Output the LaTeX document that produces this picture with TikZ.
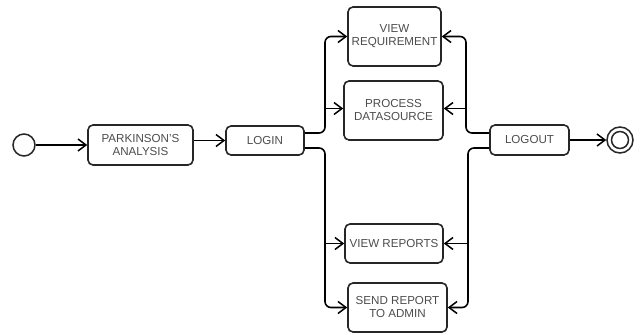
\documentclass[tikz,border=0pt]{standalone}
\usepackage{fontspec}
\setmainfont{Liberation Sans}
\usetikzlibrary{positioning, arrows.meta}

\tikzset{
    act/.style={draw=black!85, line width=1.6pt, rounded corners=5pt, align=center, inner sep=1pt, text=black!70, font=\fontsize{11.6}{13}\selectfont},
    arr/.style={line width=1.6pt, -{Straight Barb[length=8pt, width=12pt, line width=1.5pt]}, rounded corners=6pt},
    dot/.style={circle, draw=black!85, line width=1.5pt, inner sep=0pt}
}

\begin{document}
\begin{tikzpicture}[x=1pt, y=-1pt]
    \useasboundingbox (0, 0) rectangle (641, 335);

    \node[dot, minimum size=22pt] (start) at (24, 145) {};
    \node[act, minimum width=105pt, minimum height=40pt] (pa) at (140.5, 145) {PARKINSON'S\\ANALYSIS};
    \node[act, minimum width=78pt, minimum height=29pt] (login) at (265, 140.5) {LOGIN};
    \node[act, minimum width=93pt, minimum height=59pt] (vr) at (394.5, 36.5) {VIEW\\REQUIREMENT};
    \node[act, minimum width=99pt, minimum height=59pt] (pd) at (393.5, 110.5) {PROCESS\\DATASOURCE};
    \node[act, minimum width=98pt, minimum height=39pt] (vrep) at (394, 243.5) {VIEW REPORTS};
    \node[act, minimum width=99pt, minimum height=49pt] (sr) at (397.5, 307.5) {SEND REPORT\\TO ADMIN};
    \node[act, minimum width=79pt, minimum height=30pt] (logout) at (529.5, 140) {LOGOUT};
    \node[dot, minimum size=26pt] (end) at (620, 140) {};
    \node[dot, minimum size=17pt] (endin) at (620, 140) {};

    \coordinate (lbus) at (325, 0);
    \coordinate (rbus) at (466, 0);
    \coordinate (rbus2) at (468, 0);

    \draw[arr] (start) -- (pa);
    \draw[arr] (pa.east |- login) -- (login);

    \draw[arr] ([yshift=7.5pt]login.east) -| (lbus |- vr) -- (vr.west);
    \draw[arr] ([yshift=2pt]pd.west -| lbus) -- ([yshift=2pt]pd.west);
    \draw[arr] ([yshift=-7.5pt]login.east) -| (lbus |- sr) -- (sr.west);
    \draw[arr] (vrep.west -| lbus) -- (vrep.west);

    \draw[arr] ([yshift=7pt]logout.west) -| (rbus |- vr) -- (vr.east);
    \draw[arr] ([yshift=2pt]pd.east -| rbus) -- ([yshift=2pt]pd.east);
    \draw[arr] ([yshift=-8pt]logout.west) -| (rbus2 |- sr) -- (sr.east);
    \draw[arr] (vrep.east -| rbus2) -- (vrep.east);

    \draw[arr] (logout) -- (end);
\end{tikzpicture}
\end{document}
